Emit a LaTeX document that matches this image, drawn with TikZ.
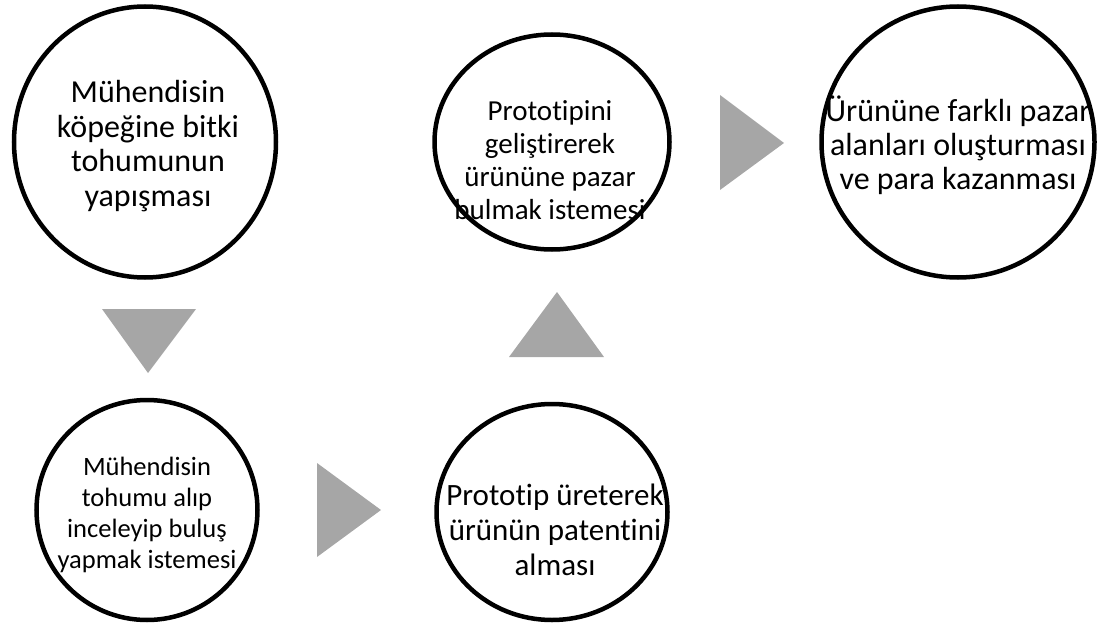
\documentclass[tikz,border=0pt]{standalone}
\usepackage{fontspec}
\setmainfont{Carlito}[Ligatures={NoCommon}]
\usetikzlibrary{shapes.geometric,positioning}
\definecolor{arrowgray}{RGB}{166,166,166}
\tikzset{
    ring/.style = {draw=black, line width=4.5pt, shape=ellipse, inner sep=0pt},
    ringtext/.style = {align=center, inner sep=0pt},
    pointer/.style = {fill=arrowgray, draw=none}
}

\begin{document}
\begin{tikzpicture}[x=1pt,y=-1pt]
                \useasboundingbox (0,0) rectangle (1101,626);

                %% circles
                \node[ring, minimum width=262pt, minimum height=271pt] (seed) at (145,142) {};
                \node[ring, minimum width=221pt, minimum height=220pt] (idea) at (147,510) {};
                \node[ring, minimum width=231pt, minimum height=216pt] (patent) at (552,512) {};
                \node[ring, minimum width=235pt, minimum height=215pt] (market) at (552,142) {};
                \node[ring, minimum width=273pt, minimum height=271pt] (profit) at (958,142) {};

                %% texts
                \node[ringtext, font=\fontsize{32}{34.5}\selectfont] (seedtext) at (148,146)
                    {Mühendisin\\köpeğine bitki\\tohumunun\\yapışması};
                \node[ringtext, font=\fontsize{26.5}{31}\selectfont] (ideatext) at (147,515)
                    {Mühendisin\\tohumu alıp\\inceleyip buluş\\yapmak istemesi};
                \node[ringtext, font=\fontsize{31}{35}\selectfont] (patenttext) at (555,530)
                    {Prototip üreterek\\ürünün patentini\\alması};
                \node[ringtext, font=\fontsize{29}{33}\selectfont] (markettext) at (550,160)
                    {Prototipini\\geliştirerek\\ürününe pazar\\bulmak istemesi};
                \node[ringtext, font=\fontsize{32}{34}\selectfont] (profittext) at (958,145)
                    {Ürününe farklı pazar\\alanları oluşturması\\ve para kazanması};

                %% gray pointers
                \fill[pointer] (102,309) -- (196,309) -- (148,373) -- cycle;
                \fill[pointer] (317,463) -- (317,557) -- (381,510) -- cycle;
                \fill[pointer] (509,357) -- (604,357) -- (557,292) -- cycle;
                \fill[pointer] (720,95) -- (720,190) -- (784,143) -- cycle;

            \end{tikzpicture}
\end{document}
